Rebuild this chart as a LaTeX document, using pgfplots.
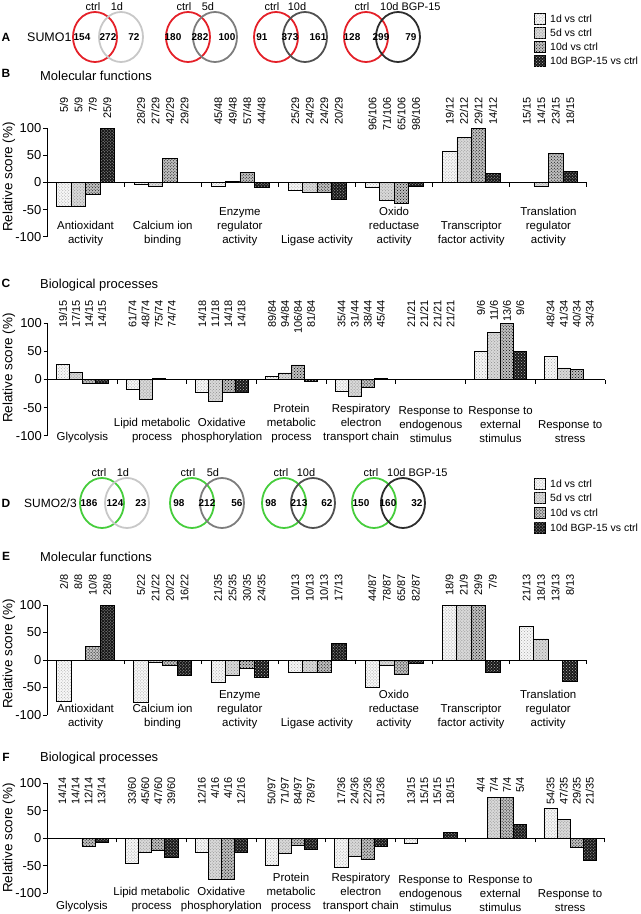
\documentclass[border=0pt]{standalone}
\usepackage{fontspec}
\setmainfont{Liberation Sans}
\usepackage{pgfplots}
\pgfplotsset{compat=1.18}
\usetikzlibrary{patterns}

\definecolor{vred}{RGB}{228,32,40}
\definecolor{vgreen}{RGB}{70,205,60}
\definecolor{vg1}{RGB}{200,200,200}
\definecolor{vg2}{RGB}{125,125,125}
\definecolor{vg3}{RGB}{80,80,80}
\definecolor{vg4}{RGB}{45,45,45}

\tikzset{
  s1/.style={draw=black, line width=0.5bp, fill=gray!6, postaction={pattern=crosshatch dots, pattern color=gray!70}},
  s2/.style={draw=black, line width=0.5bp, fill=gray!30, postaction={pattern=crosshatch dots, pattern color=gray!90}},
  s3/.style={draw=black, line width=0.5bp, fill=gray!50, postaction={pattern=crosshatch dots, pattern color=black}},
  s4/.style={draw=black, line width=0.5bp, fill=black!90, postaction={pattern=crosshatch dots, pattern color=gray!55}},
  fr/.style={rotate=90, anchor=east, inner sep=0pt, font=\fontsize{11}{12}\selectfont},
  cat/.style={anchor=south, align=center, inner sep=0pt, font=\fontsize{11.5}{14}\selectfont},
  vn/.style={font=\fontsize{10}{10}\selectfont\bfseries, inner sep=0pt},
  vl/.style={font=\fontsize{11}{11}\selectfont, inner sep=0pt},
  lg/.style={font=\fontsize{10.5}{10.5}\selectfont, anchor=west, inner sep=0pt},
  ttl/.style={font=\fontsize{13}{13}\selectfont, anchor=west, inner sep=0pt},
  let/.style={font=\fontsize{12}{12}\selectfont\bfseries, inner sep=0pt},
}

\pgfplotsset{panel/.style={
  scale only axis, anchor=south west,
  ymin=-100, ymax=100,
  ytick={-100,-50,0,50,100}, yticklabels={-100,-50,0,50,100},
  axis y line=left, axis x line=middle,
  axis line style={-, line width=1bp, black},
  xticklabels={}, tick align=outside, major tick length=4bp,
  tick style={line width=1bp, black},
  yticklabel style={font=\fontsize{13}{13}\selectfont, inner sep=1.5bp},
  ybar, bar width=0.1875, clip=false, enlargelimits=false}}

% four fraction labels above a category
\newcommand\fr[5]{%
  \node[xshift={-0.28125*\catw}, fr] at (axis cs:#1,\ftop) {#2};
  \node[xshift={-0.09375*\catw}, fr] at (axis cs:#1,\ftop) {#3};
  \node[xshift={0.09375*\catw}, fr] at (axis cs:#1,\ftop) {#4};
  \node[xshift={0.28125*\catw}, fr] at (axis cs:#1,\ftop) {#5};}

\begin{document}
\begin{tikzpicture}
\path[use as bounding box] (0,0) rectangle (641bp,-914bp);

\begin{scope}[x=1bp, y=-1bp]
  % panel A
  \node[let] at (6,37) {A};
  \node[ttl, font=\fontsize{12.5}{12.5}\selectfont] at (27,37) {SUMO1};
  \draw[vred, line width=1.8bp] (95,37) ellipse [x radius=22bp, y radius=25bp];
  \draw[vg1, line width=1.8bp] (121,37) ellipse [x radius=22bp, y radius=25bp];
  \node[vn] at (82,37) {154}; \node[vn] at (108,37) {272}; \node[vn] at (134,37) {72};
  \node[vl] at (93,7) {ctrl}; \node[vl] at (117,7) {1d};
  \draw[vred, line width=1.8bp] (188,37) ellipse [x radius=22bp, y radius=25bp];
  \draw[vg2, line width=1.8bp] (215,37) ellipse [x radius=22bp, y radius=25bp];
  \node[vn] at (173,37) {180}; \node[vn] at (200,37) {282}; \node[vn] at (227,37) {100};
  \node[vl] at (184,7) {ctrl}; \node[vl] at (208,7) {5d};
  \draw[vred, line width=1.8bp] (276,37) ellipse [x radius=22bp, y radius=25bp];
  \draw[vg3, line width=1.8bp] (305,37) ellipse [x radius=22bp, y radius=25bp];
  \node[vn] at (262,37) {91}; \node[vn] at (290,37) {373}; \node[vn] at (318,37) {161};
  \node[vl] at (272,7) {ctrl}; \node[vl] at (297,7) {10d};
  \draw[vred, line width=1.8bp] (366,37) ellipse [x radius=22bp, y radius=25bp];
  \draw[vg4, line width=1.8bp] (398,37) ellipse [x radius=22bp, y radius=25bp];
  \node[vn] at (352,37) {128}; \node[vn] at (381,37) {299}; \node[vn] at (411,37) {79};
  \node[vl] at (362,7) {ctrl}; \node[vl, anchor=west] at (380,7) {10d BGP-15};
  % legend A
  \draw[s1] (534,13) rectangle (545,24); \node[lg] at (550,18.5) {1d vs ctrl};
  \draw[s2] (534,27) rectangle (545,38); \node[lg] at (550,32.5) {5d vs ctrl};
  \draw[s3] (534,41) rectangle (545,52); \node[lg] at (550,46.5) {10d vs ctrl};
  \draw[s4] (534,55) rectangle (545,66); \node[lg] at (550,60.5) {10d BGP-15 vs ctrl};

  % panel D
  \node[let] at (6,503) {D};
  \node[ttl, font=\fontsize{12}{12}\selectfont] at (24,503) {SUMO2/3};
  \draw[vgreen, line width=1.8bp] (102,503) ellipse [x radius=22bp, y radius=25bp];
  \draw[vg1, line width=1.8bp] (127,503) ellipse [x radius=22bp, y radius=25bp];
  \node[vn] at (89,503) {186}; \node[vn] at (115,503) {124}; \node[vn] at (141,503) {23};
  \node[vl] at (99,473) {ctrl}; \node[vl] at (123,473) {1d};
  \draw[vgreen, line width=1.8bp] (192,503) ellipse [x radius=22bp, y radius=25bp];
  \draw[vg2, line width=1.8bp] (222,503) ellipse [x radius=22bp, y radius=25bp];
  \node[vn] at (179,503) {98}; \node[vn] at (207,503) {212}; \node[vn] at (237,503) {56};
  \node[vl] at (188,473) {ctrl}; \node[vl] at (213,473) {5d};
  \draw[vgreen, line width=1.8bp] (284,503) ellipse [x radius=22bp, y radius=25bp];
  \draw[vg3, line width=1.8bp] (313,503) ellipse [x radius=22bp, y radius=25bp];
  \node[vn] at (271,503) {98}; \node[vn] at (299,503) {213}; \node[vn] at (327,503) {62};
  \node[vl] at (281,473) {ctrl}; \node[vl] at (306,473) {10d};
  \draw[vgreen, line width=1.8bp] (374,503) ellipse [x radius=22bp, y radius=25bp];
  \draw[vg4, line width=1.8bp] (403,503) ellipse [x radius=22bp, y radius=25bp];
  \node[vn] at (361,503) {150}; \node[vn] at (388,503) {160}; \node[vn] at (417,503) {32};
  \node[vl] at (371,473) {ctrl}; \node[vl, anchor=west] at (387,473) {10d BGP-15};
  % legend D
  \draw[s1] (534,478) rectangle (545,489); \node[lg] at (550,483.5) {1d vs ctrl};
  \draw[s2] (534,492) rectangle (545,503); \node[lg] at (550,497.5) {5d vs ctrl};
  \draw[s3] (534,507) rectangle (545,518); \node[lg] at (550,512.5) {10d vs ctrl};
  \draw[s4] (534,522) rectangle (545,533); \node[lg] at (550,527.5) {10d BGP-15 vs ctrl};

  % titles and y labels
  \node[let] at (6,73) {B};   \node[ttl] at (40,76) {Molecular functions};
  \node[let] at (6,283) {C};  \node[ttl] at (40,285) {Biological processes};
  \node[let] at (6,556) {E};  \node[ttl] at (40,557) {Molecular functions};
  \node[let] at (6,757) {F};  \node[ttl] at (40,758) {Biological processes};
  \foreach \yy in {177,368,654,838}
    \node[rotate=90, font=\fontsize{13.5}{13.5}\selectfont, inner sep=0pt] at (9,\yy) {Relative score (\%)};
\end{scope}

% ---------------- B ----------------
\def\catw{77.143bp}\def\ftop{158}
\begin{axis}[panel, at={(47bp,-236.7bp)}, width=540bp, height=108.4bp,
  xmin=-0.5, xmax=6.5, xtick={0.5,1.5,...,6.5}]
\addplot[s1, bar shift=-0.28125] coordinates {(0,-44.4)(1,-3.4)(2,-6.3)(3,-13.8)(4,-9.4)(5,58.3)(6,0)};
\addplot[s2, bar shift=-0.09375] coordinates {(0,-44.4)(1,-6.9)(2,2.1)(3,-17.2)(4,-33.0)(5,83.3)(6,-6.7)};
\addplot[s3, bar shift=0.09375] coordinates {(0,-22.2)(1,44.8)(2,18.8)(3,-17.2)(4,-38.7)(5,100)(6,53.3)};
\addplot[s4, bar shift=0.28125] coordinates {(0,100)(1,0)(2,-8.3)(3,-31.0)(4,-7.5)(5,16.7)(6,20)};
\fr{0}{5/9}{5/9}{7/9}{25/9}
\fr{1}{28/29}{27/29}{42/29}{29/29}
\fr{2}{45/48}{49/48}{57/48}{44/48}
\fr{3}{25/29}{24/29}{24/29}{20/29}
\fr{4}{96/106}{71/106}{65/106}{98/106}
\fr{5}{19/12}{22/12}{29/12}{14/12}
\fr{6}{15/15}{14/15}{23/15}{18/15}
\node[cat] at (axis cs:0,-117) {Antioxidant\\activity};
\node[cat] at (axis cs:1,-117) {Calcium ion\\binding};
\node[cat] at (axis cs:2,-117) {Enzyme\\regulator\\activity};
\node[cat] at (axis cs:3,-117) {Ligase activity};
\node[cat] at (axis cs:4,-117) {Oxido\\reductase\\activity};
\node[cat] at (axis cs:5,-117) {Transcriptor\\factor activity};
\node[cat] at (axis cs:6,-117) {Translation\\regulator\\activity};
\end{axis}

% ---------------- C ----------------
\def\catw{69.675bp}\def\ftop{141}
\begin{axis}[panel, at={(47.6bp,-435.7bp)}, width=557.4bp, height=112.4bp,
  xmin=-0.5, xmax=7.5, xtick={0.5,1.5,...,7.5}]
\addplot[s1, bar shift=-0.28125] coordinates {(0,26.7)(1,-17.6)(2,-22.2)(3,6.0)(4,-20.5)(5,0)(6,50)(7,41.2)};
\addplot[s2, bar shift=-0.09375] coordinates {(0,13.3)(1,-35.1)(2,-38.9)(3,11.9)(4,-29.5)(5,0)(6,83.3)(7,20.6)};
\addplot[s3, bar shift=0.09375] coordinates {(0,-6.7)(1,1.4)(2,-22.2)(3,26.2)(4,-13.6)(5,0)(6,100)(7,17.6)};
\addplot[s4, bar shift=0.28125] coordinates {(0,-6.7)(1,0)(2,-22.2)(3,-3.6)(4,2.3)(5,0)(6,50)(7,0)};
\fr{0}{19/15}{17/15}{14/15}{14/15}
\fr{1}{61/74}{48/74}{75/74}{74/74}
\fr{2}{14/18}{11/18}{14/18}{14/18}
\fr{3}{89/84}{94/84}{106/84}{81/84}
\fr{4}{35/44}{31/44}{38/44}{45/44}
\fr{5}{21/21}{21/21}{21/21}{21/21}
\fr{6}{9/6}{11/6}{13/6}{9/6}
\fr{7}{48/34}{41/34}{40/34}{34/34}
\node[cat] at (axis cs:0,-113) {Glycolysis};
\node[cat] at (axis cs:1,-113) {Lipid metabolic\\process};
\node[cat] at (axis cs:2,-113) {Oxidative\\phosphorylation};
\node[cat] at (axis cs:3,-113) {Protein\\metabolic\\process};
\node[cat] at (axis cs:4,-113) {Respiratory\\electron\\transport chain};
\node[cat] at (axis cs:5,-113) {Response to\\endogenous\\stimulus};
\node[cat] at (axis cs:6,-113) {Response to\\external\\stimulus};
\node[cat] at (axis cs:7,-113) {Response to\\stress};
\end{axis}

% ---------------- E ----------------
\def\catw{77.1bp}\def\ftop{156}
\begin{axis}[panel, at={(47bp,-715bp)}, width=539.7bp, height=110bp,
  xmin=-0.5, xmax=6.5, xtick={0.5,1.5,...,6.5}]
\addplot[s1, bar shift=-0.28125] coordinates {(0,-75)(1,-77.3)(2,-40)(3,-23.1)(4,-49.4)(5,100)(6,61.5)};
\addplot[s2, bar shift=-0.09375] coordinates {(0,0)(1,-4.5)(2,-28.6)(3,-23.1)(4,-10.3)(5,100)(6,38.5)};
\addplot[s3, bar shift=0.09375] coordinates {(0,25)(1,-9.1)(2,-14.3)(3,-23.1)(4,-25.3)(5,100)(6,0)};
\addplot[s4, bar shift=0.28125] coordinates {(0,100)(1,-27.3)(2,-31.4)(3,30.8)(4,-5.7)(5,-22.2)(6,-38.5)};
\fr{0}{2/8}{8/8}{10/8}{28/8}
\fr{1}{5/22}{21/22}{20/22}{16/22}
\fr{2}{21/35}{25/35}{30/35}{24/35}
\fr{3}{10/13}{10/13}{10/13}{17/13}
\fr{4}{44/87}{78/87}{65/87}{82/87}
\fr{5}{18/9}{21/9}{29/9}{7/9}
\fr{6}{21/13}{18/13}{13/13}{8/13}
\node[cat] at (axis cs:0,-125) {Antioxidant\\activity};
\node[cat] at (axis cs:1,-125) {Calcium ion\\binding};
\node[cat] at (axis cs:2,-125) {Enzyme\\regulator\\activity};
\node[cat] at (axis cs:3,-125) {Ligase activity};
\node[cat] at (axis cs:4,-125) {Oxido\\reductase\\activity};
\node[cat] at (axis cs:5,-125) {Transcriptor\\factor activity};
\node[cat] at (axis cs:6,-125) {Translation\\regulator\\activity};
\end{axis}

% ---------------- F ----------------
\def\catw{69.75bp}\def\ftop{111}
\begin{axis}[panel, at={(47bp,-893.3bp)}, width=558bp, height=110bp,
  xmin=-0.5, xmax=7.5, xtick={0.5,1.5,...,7.5}]
\addplot[s1, bar shift=-0.28125] coordinates {(0,0)(1,-45)(2,-25)(3,-48.5)(4,-52.8)(5,-8.5)(6,0)(7,54.3)};
\addplot[s2, bar shift=-0.09375] coordinates {(0,0)(1,-25)(2,-75)(3,-26.8)(4,-33.3)(5,0)(6,75)(7,34.3)};
\addplot[s3, bar shift=0.09375] coordinates {(0,-14.3)(1,-21.7)(2,-75)(3,-13.4)(4,-38.9)(5,0)(6,75)(7,-17.1)};
\addplot[s4, bar shift=0.28125] coordinates {(0,-7.1)(1,-35)(2,-25)(3,-19.6)(4,-13.9)(5,11)(6,25)(7,-40)};
\fr{0}{14/14}{14/14}{12/14}{13/14}
\fr{1}{33/60}{45/60}{47/60}{39/60}
\fr{2}{12/16}{4/16}{4/16}{12/16}
\fr{3}{50/97}{71/97}{84/97}{78/97}
\fr{4}{17/36}{24/36}{22/36}{31/36}
\fr{5}{13/15}{15/15}{15/15}{18/15}
\fr{6}{4/4}{7/4}{7/4}{5/4}
\fr{7}{54/35}{47/35}{29/35}{21/35}
\node[cat] at (axis cs:0,-134) {Glycolysis};
\node[cat] at (axis cs:1,-134) {Lipid metabolic\\process};
\node[cat] at (axis cs:2,-134) {Oxidative\\phosphorylation};
\node[cat] at (axis cs:3,-134) {Protein\\metabolic\\process};
\node[cat] at (axis cs:4,-134) {Respiratory\\electron\\transport chain};
\node[cat] at (axis cs:5,-134) {Response to\\endogenous\\stimulus};
\node[cat] at (axis cs:6,-134) {Response to\\external\\stimulus};
\node[cat] at (axis cs:7,-134) {Response to\\stress};
\end{axis}
\end{tikzpicture}
\end{document}
